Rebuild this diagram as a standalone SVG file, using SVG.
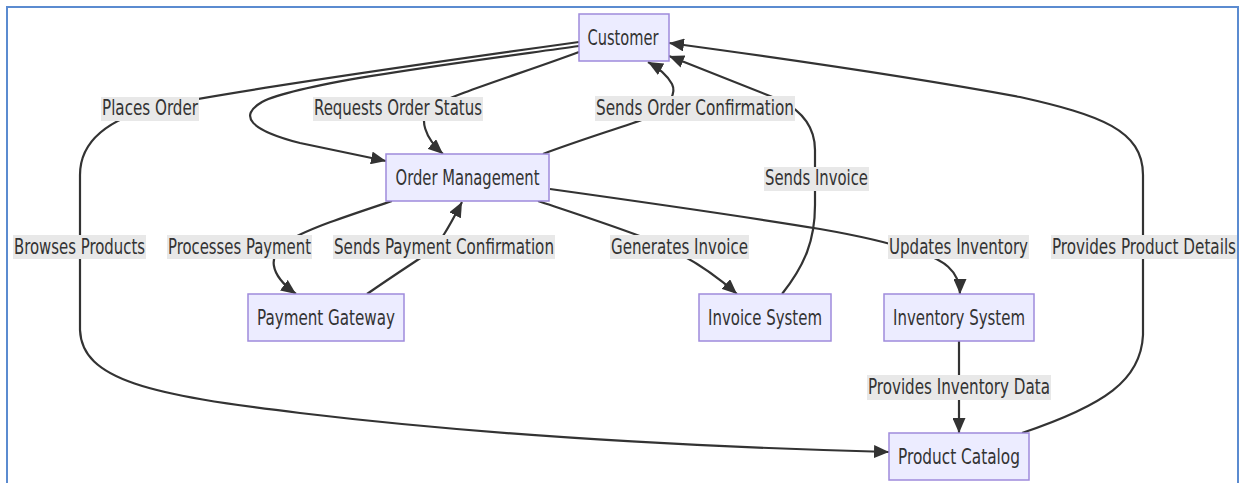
<svg xmlns="http://www.w3.org/2000/svg" width="1241" height="483" viewBox="0 0 1241 483">
<style>
.node rect{fill:#ECECFF;stroke:#9F8BDC;stroke-width:1.5}
.node text{font-family:"DejaVu Sans Condensed","DejaVu Sans","Liberation Sans",sans-serif;font-stretch:condensed;font-size:21px;fill:#333;text-anchor:middle}
.edge{fill:none;stroke:#333;stroke-width:2.2;marker-end:url(#arrow)}
.lbl rect{fill:#e8e8e8}
.lbl text{font-family:"DejaVu Sans Condensed","DejaVu Sans","Liberation Sans",sans-serif;font-stretch:condensed;font-size:21px;fill:#333;text-anchor:middle}
</style>
<defs>
<marker id="arrow" markerUnits="userSpaceOnUse" markerWidth="15" markerHeight="13" refX="15" refY="6.5" orient="auto">
<path d="M0,0 L15,6.5 L0,13 z" fill="#333"/>
</marker>
</defs>
<rect x="0" y="0" width="1241" height="483" fill="#fff"/>
<rect x="7" y="7" width="1231" height="500" fill="none" stroke="#5b8bd0" stroke-width="2"/>
<g id="connectors">
<path class="edge" d="M579,42 C450,60 250,88 160,106 C110,118 80,140 80,175 L80,330 C82,380 150,395 300,413 C500,437 700,447 889,452"/>
<path class="edge" d="M579,46 C480,60 300,82 262,102 C238,116 250,130 300,143 L386,161"/>
<path class="edge" d="M579,52 C520,74 450,95 430,108 C418,118 425,138 443,154"/>
<path class="edge" d="M543,154 C580,140 620,128 650,117 C672,105 676,92 672,84 C667,75 657,67 648,62"/>
<path class="edge" d="M782,294 C805,265 815,240 815,205 L815,150 C815,125 800,110 780,100 L669,56"/>
<path class="edge" d="M1022,433 C1105,405 1141,380 1143,335 L1143,175 C1143,130 1100,115 1020,97 C900,75 780,58 669,43"/>
<path class="edge" d="M392,201 C350,215 310,228 290,240 C265,255 270,275 296,294"/>
<path class="edge" d="M367,294 C390,278 410,265 425,255 C440,245 450,225 462,202"/>
<path class="edge" d="M538,201 C580,215 620,228 650,240 C680,252 710,270 737,294"/>
<path class="edge" d="M550,189 C650,203 760,219 820,229 C860,236 890,243 910,250 C945,258 960,272 960,294"/>
<path class="edge" d="M959,341 L959,433"/>
</g>
<g id="labels">
<g class="lbl"><rect x="101" y="97" width="98" height="24"/><text x="150" y="115" textLength="96" lengthAdjust="spacingAndGlyphs">Places Order</text></g>
<g class="lbl"><rect x="313" y="97" width="170" height="24"/><text x="398" y="115" textLength="168" lengthAdjust="spacingAndGlyphs">Requests Order Status</text></g>
<g class="lbl"><rect x="595" y="96" width="200" height="25"/><text x="695" y="115" textLength="198" lengthAdjust="spacingAndGlyphs">Sends Order Confirmation</text></g>
<g class="lbl"><rect x="764" y="167" width="105" height="24"/><text x="816.5" y="185" textLength="103" lengthAdjust="spacingAndGlyphs">Sends Invoice</text></g>
<g class="lbl"><rect x="13" y="235" width="133" height="24"/><text x="79.5" y="254" textLength="131" lengthAdjust="spacingAndGlyphs">Browses Products</text></g>
<g class="lbl"><rect x="167" y="235" width="145" height="24"/><text x="239.5" y="254" textLength="143" lengthAdjust="spacingAndGlyphs">Processes Payment</text></g>
<g class="lbl"><rect x="333" y="235" width="222" height="24"/><text x="444" y="254" textLength="220" lengthAdjust="spacingAndGlyphs">Sends Payment Confirmation</text></g>
<g class="lbl"><rect x="610" y="235" width="139" height="24"/><text x="679.5" y="254" textLength="137" lengthAdjust="spacingAndGlyphs">Generates Invoice</text></g>
<g class="lbl"><rect x="888" y="235" width="141" height="24"/><text x="958.5" y="254" textLength="139" lengthAdjust="spacingAndGlyphs">Updates Inventory</text></g>
<g class="lbl"><rect x="1051" y="235" width="186" height="24"/><text transform="translate(1144,254) scale(0.7,1)" x="0" y="0" textLength="263" lengthAdjust="spacingAndGlyphs">Provides Product Details</text></g>
<g class="lbl"><rect x="867" y="375" width="184" height="25"/><text x="959" y="394" textLength="182" lengthAdjust="spacingAndGlyphs">Provides Inventory Data</text></g>
</g>
<g id="customer" class="node"><rect x="579" y="14" width="90" height="47"/><text x="623" y="45" textLength="71" lengthAdjust="spacingAndGlyphs">Customer</text></g>
<g id="order-management" class="node"><rect x="386" y="154" width="163" height="47"/><text x="467.5" y="185" textLength="144" lengthAdjust="spacingAndGlyphs">Order Management</text></g>
<g id="payment-gateway" class="node"><rect x="248" y="294" width="156" height="47"/><text x="326" y="325" textLength="138" lengthAdjust="spacingAndGlyphs">Payment Gateway</text></g>
<g id="invoice-system" class="node"><rect x="699" y="294" width="132" height="47"/><text x="765" y="325" textLength="114" lengthAdjust="spacingAndGlyphs">Invoice System</text></g>
<g id="inventory-system" class="node"><rect x="884" y="294" width="150" height="47"/><text x="959" y="325" textLength="132" lengthAdjust="spacingAndGlyphs">Inventory System</text></g>
<g id="product-catalog" class="node"><rect x="889" y="433" width="140" height="47"/><text x="959" y="464" textLength="122" lengthAdjust="spacingAndGlyphs">Product Catalog</text></g>
</svg>
